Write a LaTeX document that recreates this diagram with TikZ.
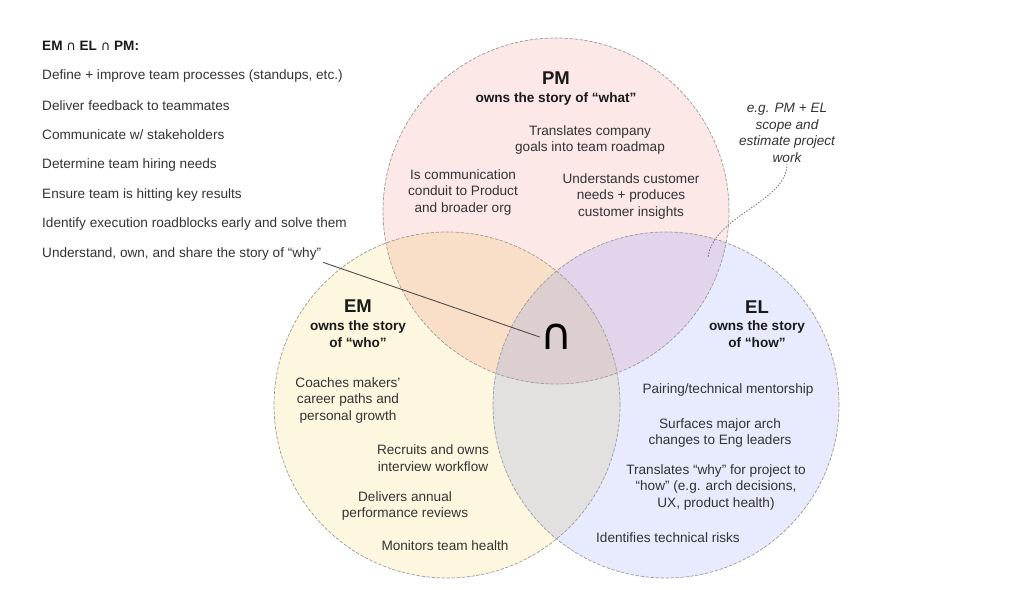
\documentclass[tikz,border=0pt]{standalone}
\usepackage{fontspec}
\setmainfont{Liberation Sans}
\newfontfamily\capfont{DejaVu Sans}
\usetikzlibrary{positioning}
\definecolor{pmpink}{HTML}{FCE8E6}
\definecolor{emyellow}{HTML}{FEF7E0}
\definecolor{elblue}{HTML}{E8EAFD}
\definecolor{pmem}{HTML}{FADFC8}
\definecolor{pmel}{HTML}{E2D4EA}
\definecolor{emel}{HTML}{E2E1DF}
\definecolor{allthree}{HTML}{DDCFCF}
\newcommand{\capsym}{{\capfont\mdseries\fontsize{13}{14}\selectfont ∩}}
\begin{document}
\begin{tikzpicture}[x=1pt, y=-1pt, line join=round, line cap=round,
    txt/.style={font=\fontsize{13.6}{16.5}\selectfont, text=black!80, align=center, inner sep=1pt},
    ttl/.style={font=\fontsize{13.6}{16.5}\selectfont\bfseries, text=black!90, align=center, inner sep=1pt},
    big/.style={font=\fontsize{18.5}{20}\selectfont\bfseries, text=black!90, inner sep=1pt},
    item/.style={font=\fontsize{13.6}{16.5}\selectfont, text=black!80, anchor=west, inner sep=2pt},
    rim/.style={draw=black!40, dash pattern=on 3pt off 2pt, line width=0.7pt}]
  \def\r{173pt}
  \useasboundingbox (0,0) rectangle (1024,589);
  \coordinate (pm) at (556,211);
  \coordinate (em) at (447,405);
  \coordinate (el) at (666,405);
  % circles
  \fill[pmpink] (pm) circle(\r);
  \fill[emyellow] (em) circle(\r);
  \fill[elblue] (el) circle(\r);
  \begin{scope}
    \clip (pm) circle(\r);
    \fill[pmem] (em) circle(\r);
    \fill[pmel] (el) circle(\r);
  \end{scope}
  \begin{scope}
    \clip (em) circle(\r);
    \fill[emel] (el) circle(\r);
    \clip (el) circle(\r);
    \fill[allthree] (pm) circle(\r);
  \end{scope}
  \draw[rim] (pm) circle(\r);
  \draw[rim] (em) circle(\r);
  \draw[rim] (el) circle(\r);
  % PM
  \node[big] (pmname) at (556,78) {PM};
  \node[ttl] (pmown) at (556,99) {owns the story of “what”};
  \node[txt] (pmgoals) at (590,140) {Translates company\\goals into team roadmap};
  \node[txt] (pmconduit) at (463,192) {Is communication\\conduit to Product\\and broader org};
  \node[txt] (pmcust) at (631,196) {Understands customer\\needs + produces\\customer insights};
  % EM
  \node[big] (emname) at (358,306) {EM};
  \node[ttl] (emown) at (358,334) {owns the story\\of “who”};
  \node[txt] (emcoach) at (348,400) {Coaches makers’\\career paths and\\personal growth};
  \node[txt] (emhire) at (433,458) {Recruits and owns\\interview workflow};
  \node[txt] (emreview) at (405,506) {Delivers annual\\performance reviews};
  \node[txt] (emhealth) at (445,546) {Monitors team health};
  % EL
  \node[big] (elname) at (757,307) {EL};
  \node[ttl] (elown) at (757,334) {owns the story\\of “how”};
  \node[txt] (elpair) at (728,390) {Pairing/technical mentorship};
  \node[txt] (elarch) at (720,433) {Surfaces major arch\\changes to Eng leaders};
  \node[txt] (elhow) at (716,487) {Translates “why” for project to\\“how” (e.g. arch decisions,\\UX, product health)};
  \node[txt] (elrisk) at (668,538) {Identifies technical risks};
  % intersection
  \node[font=\fontsize{44}{44}\selectfont\capfont, inner sep=1pt] (cap) at (557,337) {∩};
  \node[item, font=\fontsize{13.6}{16.5}\selectfont\bfseries, text=black!90] (head) at (40,46) {EM \capsym{} EL \capsym{} PM:};
  \foreach \t [count=\i] in {{Define + improve team processes (standups, etc.)},
      {Deliver feedback to teammates}, {Communicate w/ stakeholders},
      {Determine team hiring needs}, {Ensure team is hitting key results},
      {Identify execution roadblocks early and solve them},
      {Understand, own, and share the story of “why”}}
    \node[item] (item\i) at (40,46+29.7*\i) {\t};
  \draw[black!70, line width=0.9pt] (item7.south east) -- (cap.west);
  % note
  \node[txt, font=\fontsize{13.6}{16.7}\selectfont\itshape] (note) at (787,133) {e.g. PM + EL\\scope and\\estimate project\\work};
  \coordinate (notetip) at (708,258);
  \draw[black!55, dotted, line width=0.9pt] (note.south) .. controls +(0,38) and +(4,-42) .. (notetip);
\end{tikzpicture}
\end{document}
